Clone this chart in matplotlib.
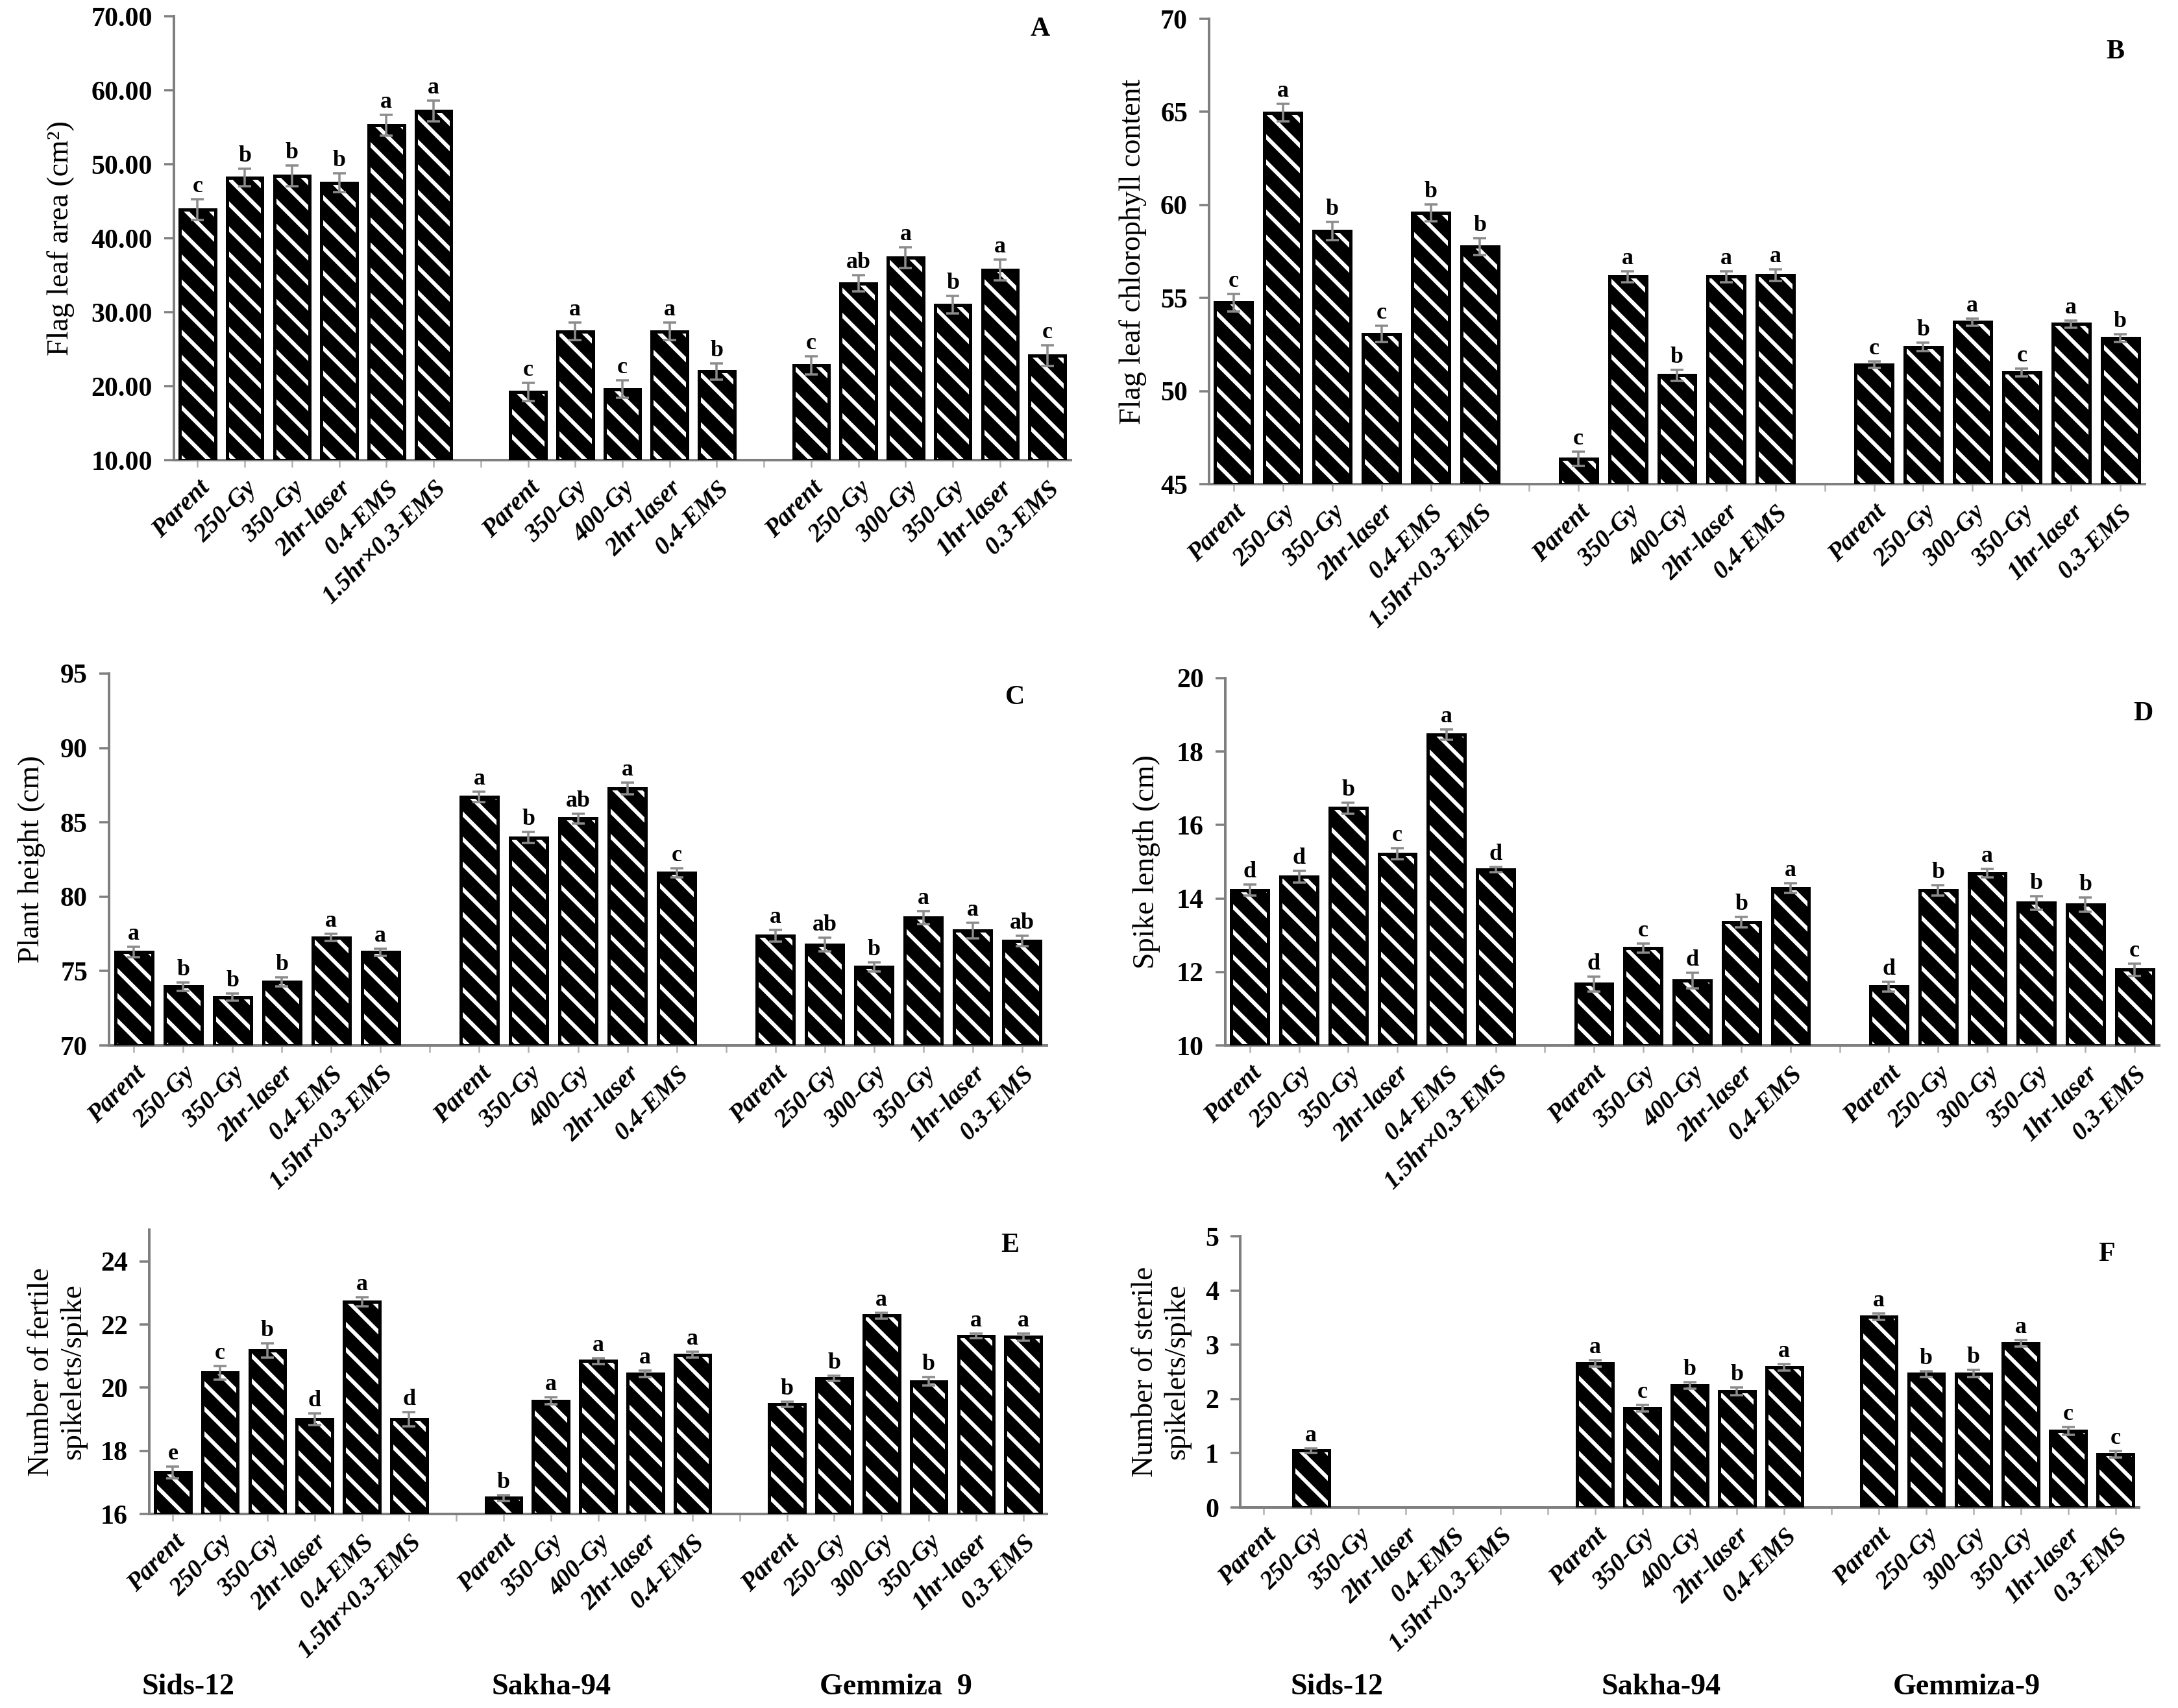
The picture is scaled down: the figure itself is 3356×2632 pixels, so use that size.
import numpy as np
import matplotlib
matplotlib.use("Agg")
import matplotlib.pyplot as plt

W, H, DPI = 3356, 2632, 116


def pt(px):
    # sizes are measured in output pixels
    return px * 72.0 / DPI


plt.rcParams["font.family"] = "Liberation Serif"
plt.rcParams["hatch.linewidth"] = pt(6)

# ---- categories ----
sids = ["Parent", "250-Gy", "350-Gy", "2hr-laser", "0.4-EMS", "1.5hr\u00d70.3-EMS"]
sakha = ["Parent", "350-Gy", "400-Gy", "2hr-laser", "0.4-EMS"]
gemmiza = ["Parent", "250-Gy", "300-Gy", "350-Gy", "1hr-laser", "0.3-EMS"]

# ---- panel data (Sids-12, Sakha-94, Gemmiza-9 in order) ----
leaf_area = [43.9, 48.2, 48.4, 47.5, 55.3, 57.2,
             19.2, 27.4, 19.6, 27.4, 22.0,
             22.8, 33.9, 37.4, 31.0, 35.7, 24.1]
leaf_area_se = [1.4, 1.2, 1.4, 1.3, 1.4, 1.4,
                1.2, 1.2, 1.2, 1.2, 1.1,
                1.2, 1.1, 1.4, 1.2, 1.4, 1.4]
leaf_area_let = ["c", "b", "b", "b", "a", "a", "c", "a", "c", "a", "b",
                 "c", "ab", "a", "b", "a", "c"]

chlorophyll = [54.75, 64.95, 58.6, 53.07, 59.57, 57.77,
               46.35, 56.15, 50.85, 56.15, 56.23,
               51.42, 52.37, 53.7, 51.0, 53.6, 52.85]
chlorophyll_se = [0.47, 0.47, 0.5, 0.45, 0.46, 0.46,
                  0.38, 0.3, 0.3, 0.3, 0.3,
                  0.17, 0.23, 0.2, 0.2, 0.19, 0.21]
chlorophyll_let = ["c", "a", "b", "c", "b", "b", "c", "a", "b", "a", "a",
                   "c", "b", "a", "c", "a", "b"]

height = [76.27, 73.95, 73.24, 74.28, 77.26, 76.27,
          86.72, 83.98, 85.26, 87.27, 81.59,
          77.37, 76.78, 75.29, 78.6, 77.73, 77.02]
height_se = [0.35, 0.3, 0.24, 0.29, 0.24, 0.23,
             0.35, 0.38, 0.33, 0.38, 0.3,
             0.4, 0.47, 0.3, 0.43, 0.52, 0.35]
height_let = ["a", "b", "b", "b", "a", "a", "a", "b", "ab", "a", "c",
              "a", "ab", "b", "a", "a", "ab"]

spike_len = [14.23, 14.59, 16.46, 15.22, 18.47, 14.78,
             11.67, 12.65, 11.77, 13.35, 14.28,
             11.6, 14.23, 14.69, 13.88, 13.83, 12.06]
spike_len_se = [0.15, 0.16, 0.15, 0.15, 0.14, 0.07,
                0.21, 0.12, 0.21, 0.14, 0.13,
                0.14, 0.14, 0.12, 0.19, 0.19, 0.17]
spike_len_let = ["d", "d", "b", "c", "a", "d", "d", "c", "d", "b", "a",
                 "d", "b", "a", "b", "b", "c"]

fertile = [17.32, 20.47, 21.18, 19.0, 22.72, 19.0,
           16.51, 19.58, 20.84, 20.44, 21.04,
           19.47, 20.3, 22.28, 20.2, 21.64, 21.6]
fertile_se = [0.19, 0.22, 0.22, 0.19, 0.15, 0.22,
              0.09, 0.11, 0.09, 0.11, 0.09,
              0.08, 0.08, 0.1, 0.13, 0.07, 0.12]
fertile_let = ["e", "c", "b", "d", "a", "d", "b", "a", "a", "a", "a",
               "b", "b", "a", "b", "a", "a"]

sterile = [np.nan, 1.05, np.nan, np.nan, np.nan, np.nan,
           2.65, 1.83, 2.25, 2.14, 2.58,
           3.52, 2.46, 2.47, 3.03, 1.41, 0.98]
sterile_se = [0, 0.04, 0, 0, 0, 0,
              0.06, 0.06, 0.06, 0.07, 0.06,
              0.06, 0.05, 0.06, 0.06, 0.07, 0.06]
sterile_let = ["", "a", "", "", "", "", "a", "c", "b", "b", "a",
               "a", "b", "b", "a", "c", "c"]

fig = plt.figure(figsize=(W / DPI, H / DPI), dpi=DPI)

# slot positions: groups separated by one empty slot
pos = np.array(list(range(0, 6)) + list(range(7, 12)) + list(range(13, 19)))
tick_labels = sids + [""] + sakha + [""] + gemmiza

SPINE = "#7f7f7f"


def panel(box, vals, se, lets, ylim, yticks, fmt, ylabel, lab_x, letter, letter_xy):
    l, r, t, b = box
    ax = fig.add_axes([l / W, 1 - b / H, (r - l) / W, (b - t) / H])
    vals = np.array(vals, dtype=float)
    se = np.array(se, dtype=float)
    ok = np.isfinite(vals)
    ymin = ylim[0]
    ax.bar(pos[ok], vals[ok] - ymin, bottom=ymin, width=0.75, color="black",
           edgecolor="white", hatch="\\", linewidth=0, zorder=2)
    ax.bar(pos[ok], vals[ok] - ymin, bottom=ymin, width=0.75, fill=False,
           edgecolor="black", linewidth=pt(5), zorder=3)
    ax.errorbar(pos[ok], vals[ok], yerr=se[ok], fmt="none", ecolor="#8c8c8c",
                elinewidth=pt(3.5), capsize=pt(10), capthick=pt(3.5), zorder=4)
    for p, v, e, s in zip(pos, vals, se, lets):
        if s and np.isfinite(v):
            ax.annotate(s, (p, v + e), xytext=(0, pt(3)), textcoords="offset points",
                        ha="center", va="bottom", fontsize=pt(36), fontweight="bold")

    ax.set_xlim(-0.5, 18.5)
    ax.set_ylim(*ylim)
    ax.set_yticks(yticks, labels=[fmt % v for v in yticks], fontsize=pt(42),
                  fontweight="bold")
    ax.set_xticks(range(19), labels=tick_labels, rotation=45, ha="right",
                  rotation_mode="anchor", fontsize=pt(39), fontweight="bold",
                  fontstyle="italic")
    for s in ("top", "right"):
        ax.spines[s].set_visible(False)
    for s in ("left", "bottom"):
        ax.spines[s].set_color(SPINE)
        ax.spines[s].set_linewidth(pt(4))
    ax.tick_params(axis="y", direction="out", length=pt(15), width=pt(3.5),
                   color=SPINE, pad=pt(18))
    ax.tick_params(axis="x", direction="out", length=pt(11), width=pt(2.5),
                   color="#b0b0b0", pad=pt(14))

    ax.set_ylabel(ylabel, fontsize=pt(46))
    ax.yaxis.set_label_coords((lab_x - l) / (r - l), 0.5)
    fig.text(letter_xy[0] / W, 1 - letter_xy[1] / H, letter, fontsize=pt(42),
             fontweight="bold", ha="center", va="center")
    return ax


panel((268, 1650, 25, 709), leaf_area, leaf_area_se, leaf_area_let,
      (10, 70), [10, 20, 30, 40, 50, 60, 70], "%.2f",
      "Flag leaf area (cm\u00b2)", 115, "A", (1603, 45))
panel((1863, 3305, 29, 746), chlorophyll, chlorophyll_se, chlorophyll_let,
      (45, 70), [45, 50, 55, 60, 65, 70], "%d",
      "Flag leaf chlorophyll content", 1767, "B", (3259, 80))
panel((168, 1613, 1038, 1611), height, height_se, height_let,
      (70, 95), [70, 75, 80, 85, 90, 95], "%d",
      "Plant height (cm)", 70, "C", (1564, 1075))
panel((1888, 3327, 1045, 1611), spike_len, spike_len_se, spike_len_let,
      (10, 20), [10, 12, 14, 16, 18, 20], "%d",
      "Spike length (cm)", 1788, "D", (3302, 1100))
panel((230, 1613, 1895, 2333), fertile, fertile_se, fertile_let,
      (16, 25), [16, 18, 20, 22, 24], "%d",
      "Number of fertile\nspikelets/spike", 134, "E", (1556, 1919))
panel((1911, 3296, 1905, 2323), sterile, sterile_se, sterile_let,
      (0, 5), [0, 1, 2, 3, 4, 5], "%d",
      "Number of sterile\nspikelets/spike", 1835, "F", (3246, 1933))

# cultivar labels under the bottom row
for x, s in [(290, "Sids-12"), (850, "Sakha-94"), (1380, "Gemmiza  9"),
             (2060, "Sids-12"), (2560, "Sakha-94"), (3030, "Gemmiza-9")]:
    fig.text(x / W, 1 - 2600 / H, s, fontsize=pt(46), fontweight="bold",
             ha="center", va="center")

fig.savefig("out.png", dpi=DPI)
